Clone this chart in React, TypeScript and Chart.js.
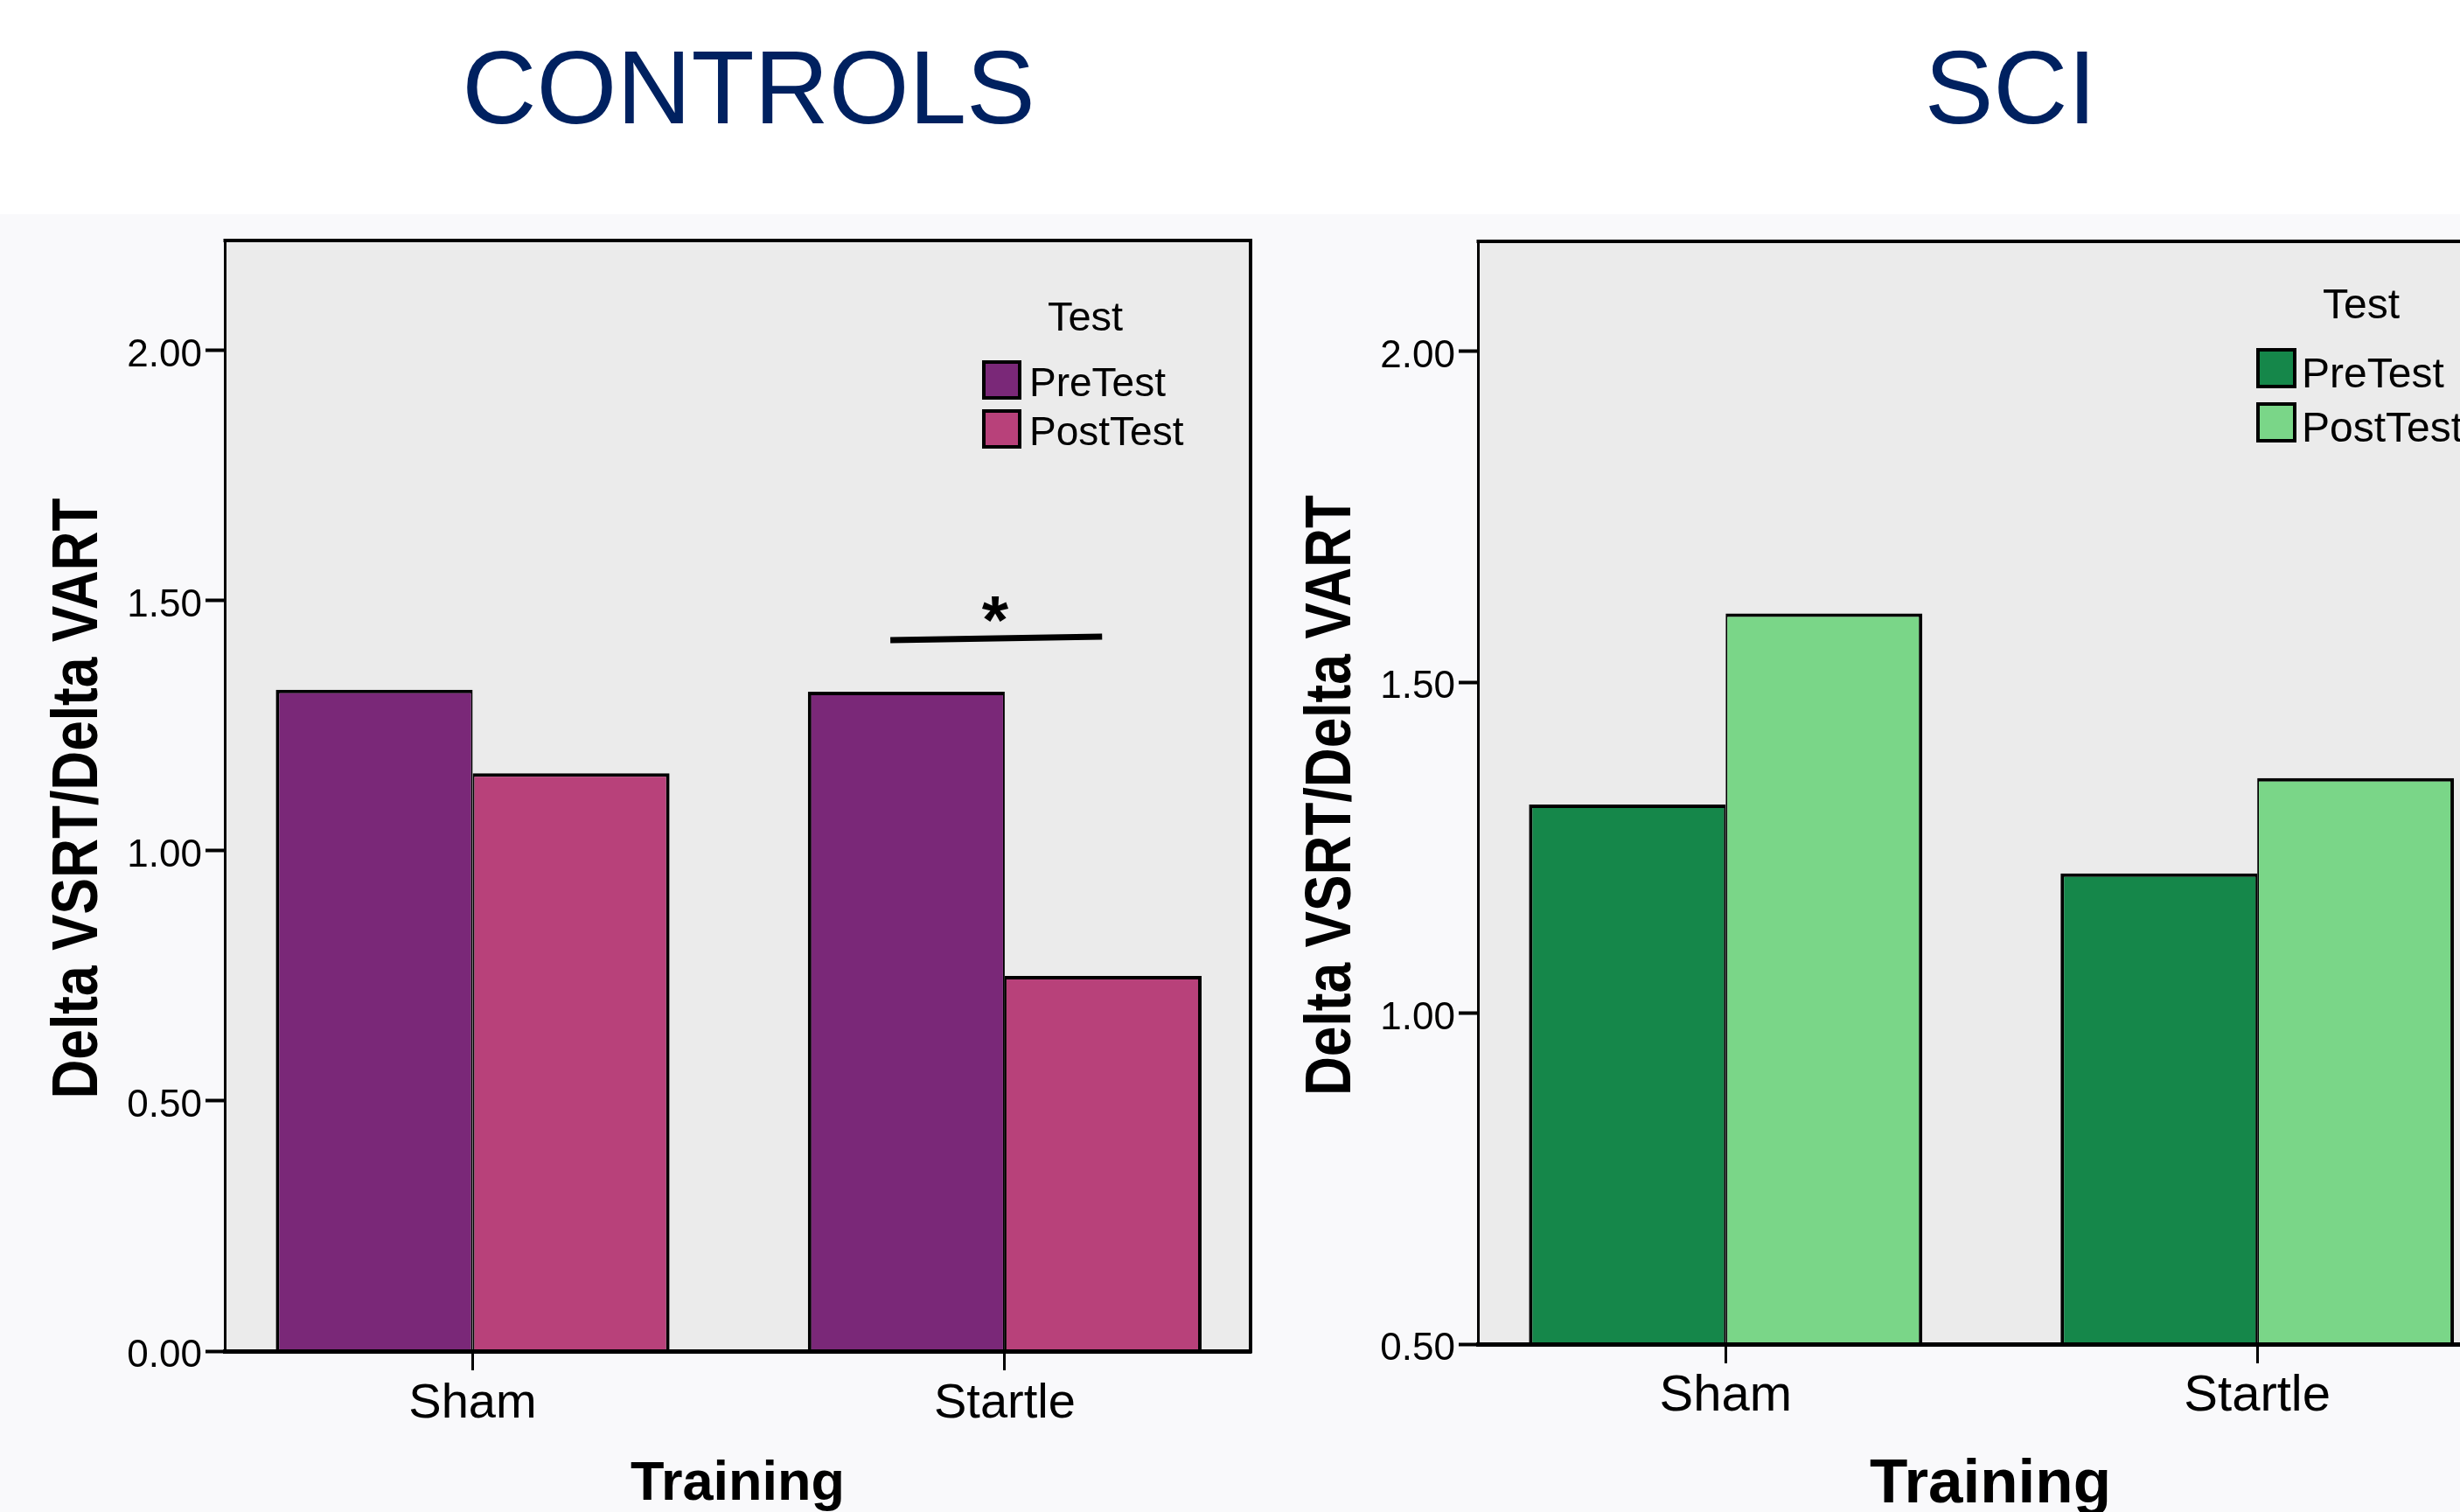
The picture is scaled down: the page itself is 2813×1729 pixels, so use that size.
import React, { useEffect, useRef } from "react";
import { Chart, registerables } from "chart.js";

Chart.register(...registerables);

// ---- data ----
const trainingGroups = ["Sham", "Startle"];
const testPhases = ["PreTest", "PostTest"];
const legendTitle = "Test";
const yAxisTitle = "Delta VSRT/Delta VART";
const xAxisTitle = "Training";

const controlsPre = [1.322, 1.318];
const controlsPost = [1.155, 0.75];
const sciPre = [1.315, 1.211];
const sciPost = [1.604, 1.355];

const controlsTicks = [0, 0.5, 1, 1.5, 2];
const sciTicks = [0.5, 1, 1.5, 2];

// significance marker over the Startle pair (controls)
const sigBarX = [0.785, 1.183];
const sigBarY = [1.421, 1.428];
const sigStarAt = [0.982, 1.482];
const sigText = "*";

// ---- styling ----
const SANS = '"Liberation Sans", Arial, Helvetica, sans-serif';
const W = 1433;
const H = 1729;

type LegendSpec = {
  titleX: number;
  titleBaseline: number;
  titleSize: number;
  boxLeft: number;
  boxTop: number;
  box: number;
  rowGap: number;
  textLeft: number;
  textSize: number;
  textOffset: number;
};

type PanelSpec = {
  title: string;
  titleX: number;
  pre: number[];
  post: number[];
  colors: [string, string];
  yMin: number;
  yMax: number;
  yTicks: number[];
  top: number;
  bottom: number;
  right: number;
  xTickSize: number;
  xTickPad: number;
  xTitleSize: number;
  xTitlePad: number;
  legend: LegendSpec;
  sig: boolean;
};

const controlsPanel: PanelSpec = {
  title: "CONTROLS",
  titleX: 856,
  pre: controlsPre,
  post: controlsPost,
  colors: ["#7a2878", "#b8417a"],
  yMin: 0,
  yMax: 2.22,
  yTicks: controlsTicks,
  top: 275,
  bottom: 1545,
  right: 1430,
  xTickSize: 56,
  xTickPad: 5,
  xTitleSize: 63,
  xTitlePad: 0,
  legend: {
    titleX: 1241,
    titleBaseline: 378,
    titleSize: 47,
    boxLeft: 1123,
    boxTop: 412,
    box: 45,
    rowGap: 56,
    textLeft: 1177,
    textSize: 46,
    textOffset: 41,
  },
  sig: true,
};

const sciPanel: PanelSpec = {
  title: "SCI",
  titleX: 866,
  pre: sciPre,
  post: sciPost,
  colors: ["#15874a", "#7ad688"],
  yMin: 0.5,
  yMax: 2.166,
  yTicks: sciTicks,
  top: 276,
  bottom: 1537,
  right: 1429,
  xTickSize: 58,
  xTickPad: 3,
  xTitleSize: 71,
  xTitlePad: -5,
  legend: {
    titleX: 1267,
    titleBaseline: 364,
    titleSize: 48,
    boxLeft: 1147,
    boxTop: 398,
    box: 46,
    rowGap: 62,
    textLeft: 1199,
    textSize: 48,
    textOffset: 45,
  },
  sig: false,
};

function buildConfig(spec: PanelSpec): any {
  const decor = {
    id: "panelDecor",
    beforeDraw(chart: any) {
      const { ctx, chartArea: a } = chart;
      ctx.save();
      ctx.fillStyle = "#ebebeb";
      ctx.fillRect(a.left, a.top, a.right - a.left, a.bottom - a.top);
      ctx.restore();
    },
    afterDraw(chart: any) {
      const { ctx, chartArea: a } = chart;
      ctx.save();
      // frame: top and right edges
      ctx.strokeStyle = "#000";
      ctx.lineWidth = 4;
      ctx.beginPath();
      ctx.moveTo(a.left - 1.5, a.top);
      ctx.lineTo(a.right, a.top);
      ctx.lineTo(a.right, a.bottom + 2.5);
      ctx.stroke();

      // panel heading
      ctx.fillStyle = "#002160";
      ctx.font = `118px ${SANS}`;
      ctx.textAlign = "center";
      ctx.textBaseline = "alphabetic";
      ctx.fillText(spec.title, spec.titleX, 141);

      // value-axis title, set in a condensed bold face
      ctx.save();
      ctx.translate(90, (a.top + a.bottom) / 2 + 3);
      ctx.rotate(-Math.PI / 2);
      ctx.scale(0.83, 1);
      ctx.fillStyle = "#000";
      ctx.font = `bold 75px ${SANS}`;
      ctx.textAlign = "center";
      ctx.textBaseline = "middle";
      ctx.fillText(yAxisTitle, 0, 0);
      ctx.restore();

      // legend
      const lg = spec.legend;
      ctx.fillStyle = "#000";
      ctx.font = `${lg.titleSize}px ${SANS}`;
      ctx.textAlign = "center";
      ctx.fillText(legendTitle, lg.titleX, lg.titleBaseline);
      ctx.textAlign = "left";
      ctx.font = `${lg.textSize}px ${SANS}`;
      chart.data.datasets.forEach((ds: any, i: number) => {
        const y = lg.boxTop + i * lg.rowGap;
        ctx.fillStyle = "#000";
        ctx.fillRect(lg.boxLeft, y, lg.box, lg.box);
        ctx.fillStyle = ds.backgroundColor;
        ctx.fillRect(lg.boxLeft + 4, y + 4, lg.box - 8, lg.box - 8);
        ctx.fillStyle = "#000";
        ctx.fillText(ds.label, lg.textLeft, y + lg.textOffset);
      });

      // significance bar and star
      if (spec.sig) {
        const xs = chart.scales.x;
        const ys = chart.scales.y;
        ctx.strokeStyle = "#000";
        ctx.lineWidth = 7;
        ctx.lineCap = "butt";
        ctx.beginPath();
        ctx.moveTo(xs.getPixelForValue(sigBarX[0]), ys.getPixelForValue(sigBarY[0]));
        ctx.lineTo(xs.getPixelForValue(sigBarX[1]), ys.getPixelForValue(sigBarY[1]));
        ctx.stroke();
        ctx.font = `bold 78px ${SANS}`;
        const m = ctx.measureText(sigText);
        const cx = xs.getPixelForValue(sigStarAt[0]);
        const cy = ys.getPixelForValue(sigStarAt[1]);
        ctx.textAlign = "center";
        ctx.textBaseline = "alphabetic";
        ctx.fillStyle = "#000";
        ctx.fillText(sigText, cx, cy + (m.actualBoundingBoxAscent - m.actualBoundingBoxDescent) / 2);
      }
      ctx.restore();
    },
  };

  const series = [spec.pre, spec.post];
  return {
    type: "bar",
    data: {
      datasets: testPhases.map((label, k) => ({
        label,
        data: series[k].map((v, i) => ({ x: i, y: v })),
        backgroundColor: spec.colors[k],
        borderColor: "#000",
        borderWidth: k === 0 ? { top: 4, left: 4, right: 2, bottom: 0 } : { top: 4, left: 2, right: 4, bottom: 0 },
        borderSkipped: "start",
        base: spec.yMin,
        categoryPercentage: 0.74,
        barPercentage: 1,
      })),
    },
    options: {
      responsive: false,
      animation: false,
      devicePixelRatio: 1,
      layout: { padding: { top: spec.top, left: 0, right: W - spec.right, bottom: 0 } },
      plugins: {
        legend: { display: false },
        tooltip: { enabled: false },
        title: { display: false },
      },
      scales: {
        x: {
          type: "linear",
          offset: false,
          min: -0.466,
          max: 1.462,
          afterBuildTicks: (s: any) => {
            s.ticks = trainingGroups.map((_, i) => ({ value: i }));
          },
          afterFit: (s: any) => {
            s.height = H - spec.bottom;
          },
          ticks: {
            callback: (v: any) => trainingGroups[Math.round(Number(v))],
            font: { family: SANS, size: spec.xTickSize },
            color: "#000",
            padding: spec.xTickPad,
            maxRotation: 0,
            autoSkip: false,
          },
          grid: {
            offset: false,
            drawOnChartArea: false,
            drawTicks: true,
            tickLength: 22,
            tickWidth: 3,
            color: "#000",
          },
          border: { display: true, color: "#000", width: 5, z: 1 },
          title: {
            display: true,
            text: xAxisTitle,
            color: "#000",
            font: { family: SANS, size: spec.xTitleSize, weight: "bold", lineHeight: 1 },
            padding: { top: 0, bottom: spec.xTitlePad },
          },
        },
        y: {
          type: "linear",
          min: spec.yMin,
          max: spec.yMax,
          afterBuildTicks: (s: any) => {
            s.ticks = spec.yTicks.map((v) => ({ value: v }));
          },
          afterFit: (s: any) => {
            s.width = 257;
          },
          ticks: {
            callback: (v: any) => Number(v).toFixed(2),
            font: { family: SANS, size: 44 },
            color: "#000",
            padding: 4,
            labelOffset: 6,
          },
          grid: {
            drawOnChartArea: false,
            drawTicks: true,
            tickLength: 22,
            tickWidth: 4,
            color: "#000",
          },
          border: { display: true, color: "#000", width: 3, z: 1 },
          title: { display: false },
        },
      },
    },
    plugins: [decor],
  };
}

function Panel({ spec, left }: { spec: PanelSpec; left: number }) {
  const ref = useRef<HTMLCanvasElement>(null);
  useEffect(() => {
    if (!ref.current) return;
    const chart = new Chart(ref.current, buildConfig(spec));
    return () => chart.destroy();
  }, [spec]);
  return (
    <canvas
      ref={ref}
      width={W}
      height={H}
      style={{ position: "absolute", left, top: 0, width: W, height: H, display: "block" }}
    />
  );
}

export default function App() {
  return (
    <div
      style={{
        position: "fixed",
        left: 0,
        top: 0,
        width: 2813,
        height: H,
        overflow: "hidden",
        background: "#ffffff",
      }}
    >
      <div style={{ position: "absolute", left: 0, top: 245, width: 2813, height: H - 245, background: "#f9f9fb" }} />
      <Panel spec={controlsPanel} left={0} />
      <Panel spec={sciPanel} left={W} />
    </div>
  );
}
